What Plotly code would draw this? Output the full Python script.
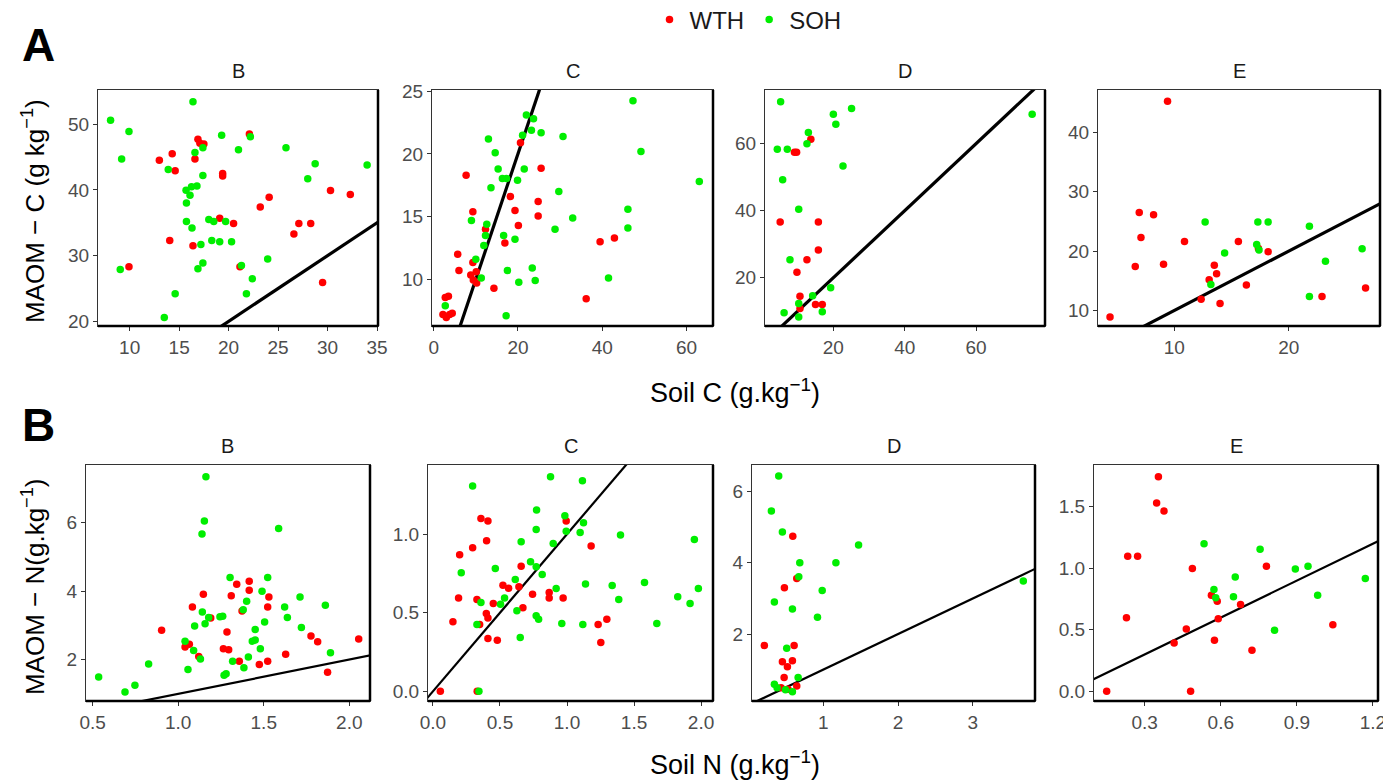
import plotly.graph_objects as go

# ---------------- DATA ----------------
# Row A: MAOM-C vs Soil C ; panels B, C, D, E
aB_wth_x = [13.0, 14.3, 14.6, 16.9, 17.1, 17.5, 16.6, 19.4, 19.4, 22.1, 19.1, 20.5, 14.05, 16.4, 9.93, 21.15, 23.2, 24.1, 26.6, 27.1, 28.3, 30.3, 32.3, 29.5]
aB_wth_y = [44.5, 45.5, 42.9, 47.7, 47.1, 47.0, 44.7, 42.5, 42.1, 48.5, 35.7, 34.9, 32.3, 31.5, 28.3, 28.3, 37.4, 38.9, 33.3, 34.9, 34.9, 39.9, 39.3, 25.9]
aB_soh_x = [8.07, 9.93, 9.19, 9.05, 16.4, 13.9, 17.4, 16.6, 17.4, 19.3, 21.0, 22.2, 25.8, 28.75, 28.0, 34.0, 15.7, 16.25, 16.8, 16.1, 15.74, 15.74, 16.3, 18.0, 18.5, 19.7, 18.3, 19.1, 20.3, 17.2, 17.4, 16.9, 21.3, 23.95, 22.4, 21.8, 14.6, 13.5]
aB_soh_y = [50.6, 48.9, 44.7, 27.9, 53.4, 43.1, 42.2, 45.7, 46.4, 48.3, 46.1, 48.1, 46.4, 44.0, 41.7, 43.8, 39.95, 40.5, 40.6, 39.2, 38.0, 35.2, 34.2, 35.5, 35.2, 35.2, 32.3, 32.1, 32.1, 31.7, 28.9, 28.0, 28.5, 29.5, 26.5, 24.2, 24.2, 20.6]

aC_wth_x = [7.7, 20.6, 25.5, 18.2, 19.3, 20.1, 24.8, 24.8, 9.3, 12.3, 16.9, 5.7, 6.0, 9.3, 8.8, 9.4, 10.1, 10.2, 14.3, 36.2, 39.5, 42.9, 2.75, 3.5, 2.2, 3.0, 3.8, 4.4]
aC_wth_y = [18.3, 20.9, 18.85, 16.6, 15.5, 14.3, 16.2, 15.05, 15.4, 14.0, 12.9, 12.0, 10.7, 11.35, 10.35, 9.95, 10.6, 9.7, 9.3, 8.45, 13.0, 13.3, 8.55, 8.65, 7.2, 6.95, 7.2, 7.3]
aC_soh_x = [47.3, 49.2, 63.05, 46.1, 46.1, 41.5, 33.0, 29.7, 30.7, 28.8, 22.0, 23.7, 23.2, 25.5, 21.1, 13.0, 14.6, 15.3, 16.3, 17.3, 19.9, 21.5, 13.6, 8.96, 12.6, 12.3, 16.6, 19.3, 11.9, 10.0, 11.3, 17.5, 23.4, 24.1, 20.2, 17.2, 2.75]
aC_soh_y = [24.25, 20.2, 17.8, 15.6, 14.1, 10.1, 14.9, 17.0, 21.4, 14.0, 23.1, 22.8, 21.9, 21.7, 21.5, 21.2, 20.1, 18.8, 18.05, 18.05, 17.9, 18.8, 17.3, 14.7, 14.4, 13.5, 13.5, 13.2, 12.7, 11.6, 10.1, 10.7, 10.9, 9.9, 9.76, 7.1, 7.9]

aD_wth_x = [9.1, 9.7, 13.7, 5.1, 15.8, 15.8, 12.6, 9.8, 10.65, 10.65, 15.0, 16.9]
aD_wth_y = [57.4, 57.4, 61.3, 36.6, 36.6, 28.3, 25.4, 21.6, 14.5, 10.8, 12.0, 12.0]
aD_soh_x = [5.23, 4.3, 7.1, 5.8, 13.0, 12.6, 20.0, 20.7, 25.1, 22.7, 75.7, 10.3, 7.85, 19.25, 14.2, 10.3, 6.2, 10.3, 16.9]
aD_soh_y = [72.5, 58.3, 58.3, 49.2, 63.3, 60.0, 68.8, 65.8, 70.5, 53.3, 68.8, 40.4, 25.4, 17.0, 14.6, 12.3, 9.55, 8.25, 9.85]

aE_wth_x = [9.42, 6.95, 8.2, 7.1, 6.6, 9.07, 10.9, 15.6, 13.5, 13.7, 13.05, 16.3, 12.35, 14.0, 17.35, 18.2, 22.9, 26.7, 4.4]
aE_wth_y = [45.2, 26.5, 26.1, 22.3, 17.4, 17.8, 21.6, 21.6, 17.6, 16.2, 15.2, 14.3, 11.9, 11.2, 20.45, 19.9, 12.35, 13.8, 8.9]
aE_soh_x = [12.7, 17.3, 18.2, 21.8, 17.2, 17.4, 14.4, 13.2, 21.8, 23.2, 26.4]
aE_soh_y = [24.9, 24.9, 24.9, 24.2, 21.1, 20.2, 19.7, 14.4, 12.35, 18.3, 20.4]

# Row B: MAOM-N vs Soil N ; panels B, C, D, E
bB_wth_x = [0.903, 1.083, 1.147, 1.19, 1.04, 1.065, 1.12, 1.342, 1.31, 1.415, 1.415, 1.53, 1.523, 1.373, 1.285, 1.264, 1.295, 1.357, 1.474, 1.523, 1.628, 1.776, 1.815, 1.873, 2.055]
bB_wth_y = [2.86, 3.54, 3.91, 3.22, 2.37, 2.45, 2.09, 4.2, 3.87, 4.29, 4.03, 3.83, 3.54, 3.42, 2.81, 2.32, 2.29, 1.95, 1.86, 1.95, 2.16, 2.69, 2.52, 1.63, 2.60]
bB_soh_x = [0.535, 0.689, 0.747, 0.827, 1.162, 1.153, 1.139, 1.587, 1.303, 1.523, 1.49, 1.40, 1.38, 1.141, 1.178, 1.157, 1.096, 1.244, 1.26, 1.622, 1.638, 1.712, 1.86, 1.72, 1.505, 1.45, 1.433, 1.45, 1.48, 1.41, 1.04, 1.09, 1.13, 1.057, 1.318, 1.384, 1.268, 1.28, 1.89]
bB_soh_y = [1.49, 1.05, 1.25, 1.87, 7.35, 6.05, 5.67, 5.83, 4.40, 4.40, 4.0, 3.71, 3.46, 3.39, 3.23, 3.05, 2.98, 3.25, 3.27, 3.54, 3.23, 3.83, 3.59, 2.94, 3.10, 2.88, 2.54, 2.57, 2.32, 2.08, 2.54, 2.27, 2.02, 1.71, 1.95, 1.76, 1.54, 1.59, 2.20]

bC_wth_x = [0.358, 0.41, 0.994, 0.4, 0.296, 0.199, 1.18, 0.658, 0.522, 0.564, 0.641, 0.743, 0.867, 0.867, 0.971, 0.191, 0.328, 0.45, 0.671, 0.398, 0.41, 0.348, 0.149, 0.41, 0.48, 1.297, 1.232, 1.252, 0.055, 0.33]
bC_wth_y = [1.1, 1.083, 1.083, 0.958, 0.913, 0.868, 0.924, 0.796, 0.675, 0.656, 0.665, 0.618, 0.628, 0.594, 0.594, 0.594, 0.584, 0.558, 0.531, 0.495, 0.467, 0.425, 0.442, 0.335, 0.325, 0.459, 0.425, 0.31, 0.0, 0.0]
bC_soh_x = [0.877, 0.296, 1.115, 0.773, 0.984, 1.123, 0.77, 0.994, 1.098, 1.399, 1.95, 0.658, 0.897, 0.728, 0.77, 0.465, 0.211, 0.815, 0.614, 1.138, 1.337, 1.578, 0.919, 1.98, 1.826, 1.386, 1.918, 0.534, 0.358, 0.504, 0.626, 0.77, 0.788, 0.961, 1.118, 1.67, 0.328, 0.651, 0.343]
bC_soh_y = [1.365, 1.306, 1.34, 1.153, 1.117, 1.072, 1.03, 1.019, 1.011, 0.994, 0.966, 0.951, 0.941, 0.824, 0.792, 0.781, 0.754, 0.743, 0.711, 0.682, 0.673, 0.692, 0.654, 0.654, 0.601, 0.584, 0.558, 0.594, 0.565, 0.554, 0.512, 0.48, 0.459, 0.431, 0.425, 0.431, 0.425, 0.342, 0.0]

bD_wth_x = [0.594, 0.647, 0.482, 0.214, 0.612, 0.455, 0.589, 0.522, 0.478, 0.4375, 0.647, 0.53]
bD_wth_y = [4.75, 3.56, 3.30, 1.68, 1.68, 1.22, 1.25, 1.08, 0.78, 0.49, 0.54, 0.45]
bD_soh_x = [0.406, 0.308, 0.455, 1.473, 0.6875, 1.17, 0.674, 0.987, 0.348, 0.589, 0.924, 3.674, 0.513, 0.348, 0.384, 0.665, 0.496, 0.589]
bD_soh_y = [6.44, 5.46, 4.87, 4.50, 4.0, 4.0, 3.61, 3.22, 2.90, 2.70, 2.47, 3.49, 1.60, 0.59, 0.49, 0.78, 0.43, 0.38]

bE_wth_x = [0.354, 0.347, 0.376, 0.233, 0.272, 0.488, 0.228, 0.78, 0.563, 0.586, 0.678, 0.59, 0.464, 0.416, 0.575, 0.723, 1.042, 0.15, 0.481]
bE_wth_y = [1.744, 1.532, 1.465, 1.098, 1.098, 0.998, 0.597, 1.017, 0.781, 0.732, 0.705, 0.589, 0.507, 0.393, 0.415, 0.334, 0.542, 0.0, 0.0]
bE_soh_x = [0.534, 0.755, 0.657, 0.894, 0.944, 1.17, 0.573, 0.58, 0.65, 0.982, 0.812]
bE_soh_y = [1.2, 1.155, 0.93, 0.995, 1.017, 0.917, 0.827, 0.76, 0.768, 0.781, 0.496]

panel_titles = ["B", "C", "D", "E"]
group_names = ["WTH", "SOH"]

# ticks
row1_xticks = [[10, 15, 20, 25, 30, 35], [0, 20, 40, 60], [20, 40, 60], [10, 20]]
row1_yticks = [[20, 30, 40, 50], [10, 15, 20, 25], [20, 40, 60], [10, 20, 30, 40]]
row2_xticks = [[0.5, 1.0, 1.5, 2.0], [0.0, 0.5, 1.0, 1.5, 2.0], [1, 2, 3], [0.3, 0.6, 0.9, 1.2]]
row2_yticks = [[2, 4, 6], [0.0, 0.5, 1.0], [2, 4, 6], [0.0, 0.5, 1.0, 1.5]]
row2_xfmt = [".1f", ".1f", "d", ".1f"]
row2_yfmt = ["d", ".1f", "d", ".1f"]

# ---------------- LAYOUT GEOMETRY (reference-page pixels) ----------------
OFF = 8                      # page body margin
W, H = 1391 - OFF, 782 - OFF  # figure size


def px_x(p):
    return (p - OFF) / W


def px_y(p):
    return 1 - (p - OFF) / H


row1_xpx = [(98, 378), (432, 713), (765, 1045), (1098, 1380)]
row2_xpx = [(86, 370), (428, 713), (752, 1035), (1094, 1378)]
row1_ypx = (90, 326)
row2_ypx = (465, 701)

row1_xr = [[6.8, 35.1], [-0.4, 66.3], [0.85, 79.3], [3.35, 27.96]]
row1_yr = [[19.3, 55.2], [6.28, 25.1], [5.6, 76.0], [7.4, 47.1]]
row2_xr = [[0.461, 2.121], [-0.037, 2.089], [0.049, 3.83], [0.1, 1.22]]
row2_yr = [[0.79, 7.69], [-0.062, 1.44], [0.117, 6.75], [-0.079, 1.84]]

RED = "#FF0000"
GREEN = "#00EE00"
TICKC = "#4D4D4D"
FONT = "Liberation Sans, Arial, sans-serif"

fig = go.Figure()

rows_data = [
    [(aB_wth_x, aB_wth_y, aB_soh_x, aB_soh_y), (aC_wth_x, aC_wth_y, aC_soh_x, aC_soh_y),
     (aD_wth_x, aD_wth_y, aD_soh_x, aD_soh_y), (aE_wth_x, aE_wth_y, aE_soh_x, aE_soh_y)],
    [(bB_wth_x, bB_wth_y, bB_soh_x, bB_soh_y), (bC_wth_x, bC_wth_y, bC_soh_x, bC_soh_y),
     (bD_wth_x, bD_wth_y, bD_soh_x, bD_soh_y), (bE_wth_x, bE_wth_y, bE_soh_x, bE_soh_y)],
]

annotations = []
shapes = []
idx = 0
for r in range(2):
    xpx = row1_xpx if r == 0 else row2_xpx
    ypx = row1_ypx if r == 0 else row2_ypx
    xr_all = row1_xr if r == 0 else row2_xr
    yr_all = row1_yr if r == 0 else row2_yr
    xt_all = row1_xticks if r == 0 else row2_xticks
    yt_all = row1_yticks if r == 0 else row2_yticks
    lw = 3.2 if r == 0 else 2.2
    for c in range(4):
        idx += 1
        sfx = "" if idx == 1 else str(idx)
        xa, ya = "x" + sfx, "y" + sfx
        wx, wy, sx, sy = rows_data[r][c]
        xr, yr = xr_all[c], yr_all[c]
        lo = min(xr[0], yr[0])
        hi = max(xr[1], yr[1])
        # 1:1 reference line
        fig.add_trace(go.Scatter(x=[lo, hi], y=[lo, hi], mode="lines",
                                 line=dict(color="black", width=lw),
                                 showlegend=False, hoverinfo="skip", xaxis=xa, yaxis=ya))
        fig.add_trace(go.Scatter(x=wx, y=wy, mode="markers", name=group_names[0],
                                 marker=dict(color=RED, size=7.5),
                                 showlegend=(idx == 1), legendgroup="w", xaxis=xa, yaxis=ya))
        fig.add_trace(go.Scatter(x=sx, y=sy, mode="markers", name=group_names[1],
                                 marker=dict(color=GREEN, size=7.5),
                                 showlegend=(idx == 1), legendgroup="s", xaxis=xa, yaxis=ya))
        xd = [px_x(xpx[c][0]), px_x(xpx[c][1])]
        yd = [px_y(ypx[1]), px_y(ypx[0])]
        if r == 0:
            xfmt, yfmt = "", ""
        else:
            xfmt = ".1f" if row2_xfmt[c] == ".1f" else ""
            yfmt = ".1f" if row2_yfmt[c] == ".1f" else ""
        common = dict(showline=True, linecolor="#333333", linewidth=1.2, mirror=True,
                      ticks="outside", ticklen=4, tickcolor="#333333", tickwidth=1,
                      showgrid=False, zeroline=False, automargin=False,
                      tickfont=dict(family=FONT, size=19, color=TICKC))
        fig.layout["xaxis" + sfx] = dict(domain=xd, range=xr, anchor=ya, tickvals=xt_all[c],
                                         tickformat=xfmt, **common)
        fig.layout["yaxis" + sfx] = dict(domain=yd, range=yr, anchor=xa, tickvals=yt_all[c],
                                         tickformat=yfmt, **common)
        # thicker bottom & right frame edges
        shapes.append(dict(type="line", xref=xa + " domain", yref=ya + " domain",
                           x0=0, x1=1, y0=0, y1=0, line=dict(color="black", width=2.5)))
        shapes.append(dict(type="line", xref=xa + " domain", yref=ya + " domain",
                           x0=1, x1=1, y0=0, y1=1, line=dict(color="black", width=2.5)))
        # strip title
        annotations.append(dict(text=panel_titles[c], x=(xd[0] + xd[1]) / 2,
                                y=px_y(ypx[0] - 19), xref="paper", yref="paper",
                                showarrow=False, xanchor="center", yanchor="middle",
                                font=dict(family=FONT, size=20, color="#1A1A1A")))

# Axis titles
annotations += [
    dict(text="Soil C (g.kg<sup>−1</sup>)", x=px_x(735), y=px_y(391), xref="paper", yref="paper",
         showarrow=False, xanchor="center", yanchor="middle",
         font=dict(family=FONT, size=27, color="black")),
    dict(text="Soil N (g.kg<sup>−1</sup>)", x=px_x(735), y=px_y(763), xref="paper", yref="paper",
         showarrow=False, xanchor="center", yanchor="middle",
         font=dict(family=FONT, size=27, color="black")),
    dict(text="MAOM − C (g kg<sup>−1</sup>)", x=px_x(33), y=px_y(211), xref="paper", yref="paper",
         showarrow=False, xanchor="center", yanchor="middle", textangle=-90,
         font=dict(family=FONT, size=26, color="black")),
    dict(text="MAOM − N(g.kg<sup>−1</sup>)", x=px_x(33), y=px_y(587), xref="paper", yref="paper",
         showarrow=False, xanchor="center", yanchor="middle", textangle=-90,
         font=dict(family=FONT, size=26, color="black")),
    dict(text="<b>A</b>", x=px_x(38), y=px_y(45), xref="paper", yref="paper",
         showarrow=False, xanchor="center", yanchor="middle",
         font=dict(family=FONT, size=46, color="black")),
    dict(text="<b>B</b>", x=px_x(38), y=px_y(425), xref="paper", yref="paper",
         showarrow=False, xanchor="center", yanchor="middle",
         font=dict(family=FONT, size=46, color="black")),
]

fig.update_layout(
    width=W, height=H,
    margin=dict(l=0, r=0, t=0, b=0, pad=0, autoexpand=False),
    paper_bgcolor="white", plot_bgcolor="white",
    annotations=annotations, shapes=shapes,
    legend=dict(orientation="h", x=px_x(748), y=px_y(20), xanchor="center", yanchor="middle",
                font=dict(family=FONT, size=24, color="#1A1A1A"),
                itemsizing="trace", bgcolor="rgba(0,0,0,0)", tracegroupgap=0),
    font=dict(family=FONT),
)

fig.write_html("out.html")
